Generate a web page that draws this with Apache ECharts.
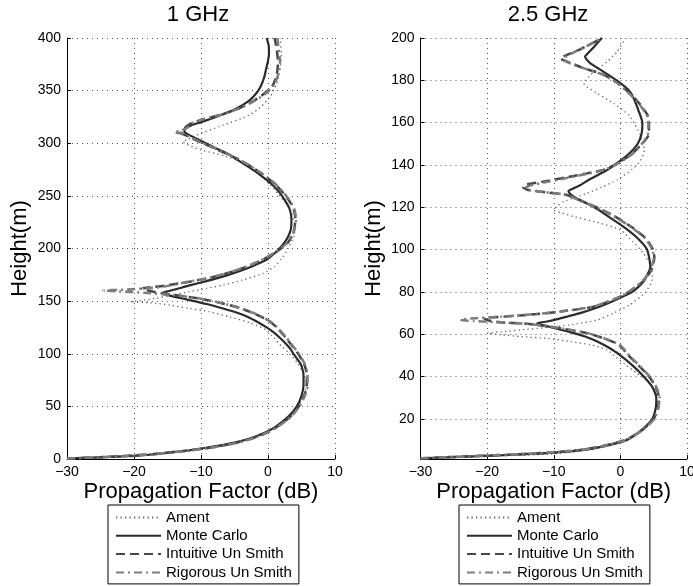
<!DOCTYPE html>
<html>
<head>
<meta charset="utf-8">
<script src="https://cdn.jsdelivr.net/npm/echarts@6/dist/echarts.min.js"></script>
<style>
  html, body { margin: 0; padding: 0; background: #fff; }
  #chart { width: 693px; height: 586px; }
</style>
</head>
<body>
<div id="chart"></div>
<script>
// series names, as in the legend
const names = ['Ament', 'Monte Carlo', 'Intuitive Un Smith', 'Rigorous Un Smith'];

// axis ticks
const xTicks = [-30, -20, -10, 0, 10];
const yTicks1 = [0, 50, 100, 150, 200, 250, 300, 350, 400];
const yTicks2 = [20, 40, 60, 80, 100, 120, 140, 160, 180, 200];

// 1 GHz : height (m) and propagation factor (dB)
const h1Am = [0.5, 1.5, 3, 5, 8, 10, 15, 20, 25, 30, 40, 50, 60, 72, 82, 92, 100, 110, 117, 122.6, 129, 135, 140, 143, 146, 148, 149.5, 151, 152.7, 156, 159, 162, 165.3, 170, 176.4, 183, 190, 200, 212, 222, 232, 242, 252, 260, 268, 276, 282, 288, 293.5, 298, 301.5, 304, 308, 316, 327, 335, 344, 355, 370, 385, 400];
const db1Am = [-30, -25, -19, -15.5, -11, -9, -5, -2.5, -0.5, 1.0, 3.2, 4.5, 5.4, 5.7, 5.3, 4.3, 3.2, 1.6, 0.6, -0.25, -2.5, -5.7, -8.8, -11.7, -14.5, -16.7, -20.6, -18.5, -16.7, -14.0, -11.7, -9.2, -6.7, -3.8, -0.7, 1.0, 2.0, 3.0, 3.9, 4.0, 3.6, 2.8, 1.5, 0.4, -0.8, -2.0, -3.8, -6.5, -9.9, -11.8, -12.7, -11.8, -10.6, -7.2, -2.7, -1.0, 0.3, 1.2, 1.8, 2.0, 1.8];

const h1Mc = [0.5, 1.5, 3, 4.5, 6, 8, 10, 13, 16, 20, 25, 30, 40, 50, 60, 70, 80, 90, 100, 105, 110, 115, 120, 125, 130, 135, 139, 143, 147, 151, 154, 156, 157.5, 159, 161, 163, 165, 169, 173, 178, 183, 189, 195, 202, 210, 218, 228, 238, 246, 254, 262, 270, 277, 284, 290, 296, 301, 305, 308, 310.5, 312.5, 314.5, 317, 320, 324, 328, 333, 340, 347, 354, 362, 370, 378, 386, 393, 400];
const db1Mc = [-30, -25, -20, -17, -15, -12, -10, -7, -4.7, -2.5, -0.5, 1.0, 3.0, 4.3, 5.0, 5.3, 5.3, 4.9, 3.8, 3.3, 2.6, 1.8, 0.9, -0.2, -1.5, -3.0, -4.6, -6.7, -9.0, -11.7, -13.9, -15.2, -15.9, -15.2, -13.9, -12.8, -11.7, -9.2, -6.9, -4.5, -2.4, -0.3, 0.9, 2.0, 2.9, 3.4, 3.5, 3.2, 2.5, 1.6, 0.4, -1.2, -2.8, -4.5, -6.0, -8.0, -9.6, -10.9, -11.8, -12.4, -12.5, -12.2, -11.5, -10.0, -8.2, -6.5, -4.7, -2.9, -1.8, -1.1, -0.6, -0.3, 0, 0.15, 0.1, -0.2];

const h1Int = [0.5, 1.5, 3, 4.5, 6, 8, 10, 13, 16, 20, 25, 30, 40, 50, 60, 70, 80, 90, 100, 110, 115, 120, 125, 130, 134, 138, 144, 149.5, 153, 156, 158.5, 160.5, 162, 163.5, 165, 168.5, 172, 177, 183, 190, 197, 205, 215, 228, 238, 246, 254, 262, 270, 278, 285, 292, 298, 303, 307, 310.5, 313, 316, 319, 323, 327, 333, 340, 347, 355, 365, 377, 389, 400];
const db1Int = [-30, -26, -21, -17.5, -15, -12, -9.5, -6.5, -4.3, -2.2, -0.2, 1.2, 3.3, 4.6, 5.4, 5.8, 5.8, 5.4, 4.5, 3.3, 2.7, 2.0, 1.3, 0.4, -0.7, -2.0, -4.5, -7.9, -10.8, -14.3, -16.8, -18.2, -18.8, -17.0, -15.0, -11.7, -8.8, -5.8, -3.0, -0.6, 1.3, 2.9, 3.8, 4.1, 3.8, 3.1, 2.1, 0.9, -0.7, -2.6, -4.5, -6.9, -9.0, -10.8, -12.1, -13.0, -12.6, -12.2, -11.4, -9.5, -7.1, -4.4, -2.2, -0.6, 0.7, 1.3, 1.5, 1.3, 1.0];

const h1Rig = [0.5, 1.5, 3, 4.5, 6, 8, 10, 13, 16, 20, 25, 30, 40, 50, 60, 70, 80, 90, 100, 110, 115, 120, 125, 130, 134, 138, 144, 149.5, 153, 156, 158, 159.3, 160, 160.8, 162, 164, 168.5, 172, 177, 183, 190, 197, 205, 215, 228, 238, 246, 254, 262, 270, 278, 285, 292, 298, 303, 307, 309.5, 310.7, 312, 315, 319, 323, 327, 333, 340, 347, 355, 365, 377, 389, 400];
const db1Rig = [-30, -26, -21, -17.3, -14.8, -11.8, -9.4, -6.4, -4.2, -2.1, -0.1, 1.3, 3.4, 4.7, 5.5, 5.9, 5.9, 5.5, 4.6, 3.4, 2.8, 2.1, 1.4, 0.5, -0.6, -1.9, -4.4, -7.8, -10.6, -14.5, -18.5, -22.5, -24.6, -22.0, -18.3, -15.3, -11.8, -8.9, -5.9, -3.1, -0.7, 1.2, 2.8, 3.8, 4.2, 3.9, 3.2, 2.2, 1.0, -0.6, -2.5, -4.4, -6.8, -8.9, -10.7, -12.0, -13.2, -14.0, -13.0, -12.0, -11.4, -9.5, -7.1, -4.3, -2.1, -0.4, 0.9, 1.5, 1.8, 1.6, 1.4];

// 2.5 GHz : height (m) and propagation factor (dB)
const h2Am = [1.3, 2.3, 3.3, 5, 7.3, 10, 13, 20, 26, 32, 37, 41.5, 46, 49, 52.6, 55, 56.5, 58, 58.9, 59.8, 60.5, 61.2, 62, 63.2, 64.4, 66.7, 70, 74, 80, 86, 92, 98, 104, 109.3, 112.4, 115.6, 117.5, 118.7, 120.5, 122.7, 126.6, 129.5, 132.9, 138, 142, 147, 154.2, 159, 163.6, 169.1, 173.9, 178.6, 184, 188.8, 193.5, 200];
const db2Am = [-30, -20.5, -10.5, -5.5, -2.5, 0.3, 2.5, 4.8, 5.4, 5.3, 4.3, 2.5, 0.6, -0.6, -2.0, -4.5, -7.5, -11, -15, -18, -20, -17.5, -15, -11, -7.5, -3.5, -1.0, 1.5, 3.8, 4.8, 4.6, 3.5, 1.8, 0, -3.0, -7.0, -9.0, -10, -9.5, -8.5, -5.0, -2.8, -0.5, 1.8, 3.0, 3.6, 3.0, 2.2, 1.25, -1.0, -3.5, -5.5, -4.0, -2.0, -0.5, 0.75];

const h2Mc = [1.3, 2, 3, 4, 5.3, 7, 10, 15, 20, 25, 30, 35, 40, 45, 50, 53, 55, 57, 58.9, 60.5, 62, 63.2, 64.3, 65.2, 66, 67, 68.5, 70.2, 72, 74, 76.5, 80, 85, 92, 100, 105, 110, 115, 120, 124, 126, 127.6, 129, 130.5, 133, 135, 137.6, 140.8, 145, 150, 155, 160, 165, 171.5, 175.5, 179.4, 184, 188, 190, 191.2, 193, 196, 200];
const db2Mc = [-30, -24, -16, -10, -5.5, -2.5, 1.0, 3.3, 4.8, 5.3, 5.4, 4.8, 3.5, 1.9, 0.0, -1.4, -2.5, -3.8, -5.3, -7.0, -8.8, -10.3, -11.7, -12.5, -11.0, -9.6, -7.8, -5.8, -4.0, -2.3, -0.5, 1.8, 3.5, 4.5, 4.0, 2.7, 0.8, -1.5, -3.9, -6.5, -7.4, -7.8, -7.0, -6.0, -4.7, -3.5, -2.0, -0.5, 1.2, 2.6, 3.2, 3.3, 2.8, 2.0, 1.2, -0.3, -2.5, -4.5, -5.1, -5.3, -4.8, -3.9, -2.8];

const h2Int = [1.3, 2, 3, 4, 5.3, 7, 10, 15, 20, 25, 30, 35, 40, 45, 50, 55, 58, 60.5, 62.5, 64, 64.9, 65.6, 66.6, 67.6, 68.3, 69.5, 70.7, 73, 77, 80, 85, 90, 96, 100, 105, 110, 116, 120, 123, 125.8, 127, 128.3, 129.5, 130.7, 132, 134, 136, 138, 141, 146, 154, 160, 164, 170, 175, 179, 183, 185.7, 188, 190.4, 192, 195, 200];
const db2Int = [-30, -25, -17, -11, -6, -2.8, 0.8, 3.4, 5.0, 5.6, 5.8, 5.3, 4.3, 2.8, 1.2, -0.2, -2.5, -5.0, -8.5, -11.5, -14, -18, -20, -20.5, -17.5, -12.5, -9, -4, -0.5, 1.3, 3.4, 4.6, 5.1, 4.9, 3.9, 2.0, -1.0, -3.6, -5.8, -8.0, -11, -14, -14.6, -14.2, -11.8, -8.3, -5.0, -2.2, -0.3, 2.0, 4.2, 4.3, 4.0, 2.6, 1.0, -0.5, -2.8, -5.5, -7.3, -9.0, -8.0, -5.8, -2.75];

const h2Rig = [1.3, 2, 3, 4, 5.3, 7, 10, 15, 20, 25, 30, 35, 40, 45, 50, 55, 58, 60.5, 62.5, 64, 64.9, 65.5, 66.2, 66.8, 67.4, 68.3, 69.5, 70.7, 73, 77, 80, 85, 90, 96, 100, 105, 110, 116, 120, 123, 125.8, 127.2, 128.2, 129.2, 130.2, 132, 134, 136, 138, 141, 146, 154, 160, 164, 170, 175, 179, 183, 186, 188, 190, 191.5, 194, 197, 200];
const db2Rig = [-30, -25, -17, -11, -6, -2.7, 0.9, 3.5, 5.1, 5.7, 5.9, 5.4, 4.4, 2.9, 1.3, -0.1, -2.4, -4.9, -8.4, -11.4, -14, -17.5, -22, -24, -22.5, -17.8, -12.8, -9.2, -4.1, -0.6, 1.2, 3.3, 4.5, 5.0, 4.8, 3.8, 1.9, -1.1, -3.7, -5.9, -8.2, -11.5, -13.8, -14.2, -13.6, -11.0, -7.8, -4.7, -2.1, -0.2, 2.1, 4.1, 4.2, 3.9, 2.5, 0.9, -0.6, -2.9, -5.8, -7.5, -8.6, -8.0, -6.5, -4.5, -2.8];

const font = '"Liberation Sans", Arial, Helvetica, sans-serif';

// line look per curve, like the matlab line specs
const looks = {
  'Ament': { color: '#666', width: 1.3, type: [1.3, 3.2] },
  'Monte Carlo': { color: '#2b2b2b', width: 2.2, type: 'solid' },
  'Intuitive Un Smith': { color: '#474747', width: 2.5, type: [9, 5] },
  'Rigorous Un Smith': { color: '#7d7d7d', width: 2.5, type: [8, 4, 2, 4] }
};

function pairs(h, db) {
  return h.map((v, i) => [db[i], v]);
}

function minus(v) {
  return v < 0 ? '\u2212' + Math.abs(v) : String(v);
}

function curve(name, idx, h, db) {
  const look = looks[name];
  return {
    name: name,
    type: 'line',
    xAxisIndex: idx,
    yAxisIndex: idx,
    data: pairs(h, db),
    showSymbol: false,
    symbol: 'none',
    smooth: 0.2,
    color: look.color,
    lineStyle: { color: look.color, width: look.width, type: look.type },
    animation: false
  };
}

function xAxisFor(idx) {
  return {
    type: 'value',
    gridIndex: idx,
    min: xTicks[0],
    max: xTicks[xTicks.length - 1],
    interval: xTicks[1] - xTicks[0],
    name: 'Propagation Factor (dB)',
    nameLocation: 'middle',
    nameGap: 22,
    nameMoveOverlap: false,
    nameTextStyle: { fontSize: 22, color: '#000', fontFamily: font },
    axisLine: { show: true, onZero: false, lineStyle: { color: '#000', width: 1 } },
    axisTick: { show: true, inside: true, length: 4, lineStyle: { color: '#000' } },
    axisLabel: { fontSize: 14, color: '#000', margin: 6, fontFamily: font, formatter: minus },
    splitLine: { show: true, lineStyle: { color: '#555', width: 1, type: [1, 4] } }
  };
}

function yAxisFor(idx, min, max, ticks) {
  const ax = {
    type: 'value',
    gridIndex: idx,
    min: min,
    max: max,
    name: 'Height(m)',
    nameLocation: 'middle',
    nameGap: 36,
    nameMoveOverlap: false,
    nameTextStyle: { fontSize: 22, color: '#000', fontFamily: font },
    axisLine: { show: true, onZero: false, lineStyle: { color: '#000', width: 1 } },
    axisTick: { show: true, inside: true, length: 4, lineStyle: { color: '#000' } },
    axisLabel: { fontSize: 14, color: '#000', margin: 6, fontFamily: font },
    splitLine: { show: true, lineStyle: { color: '#555', width: 1, type: [1, 4] } }
  };
  if (min === ticks[0]) {
    ax.interval = ticks[1] - ticks[0];
  } else {
    // axis starts below the first labelled tick
    ax.axisLabel.customValues = ticks;
    ax.axisTick.customValues = ticks;
  }
  return ax;
}

function legendAt(left) {
  return {
    data: names,
    orient: 'vertical',
    left: left,
    top: 505,
    itemWidth: 45,
    itemHeight: 14,
    itemGap: 3.3,
    padding: [5, 7, 4, 7],
    borderColor: '#000',
    borderWidth: 1,
    borderRadius: 0,
    backgroundColor: '#fff',
    selectedMode: false,
    // line sample only, no marker in the middle
    itemStyle: { opacity: 0, borderWidth: 0 },
    textStyle: { fontSize: 15, color: '#000', fontFamily: font }
  };
}

const chart = echarts.init(document.getElementById('chart'), null, { renderer: 'canvas' });

chart.setOption({
  animation: false,
  backgroundColor: '#fff',
  title: [
    { text: '1 GHz', left: 198, top: 4, textAlign: 'center', padding: 0,
      textStyle: { fontSize: 22, fontWeight: 'normal', color: '#000', fontFamily: font } },
    { text: '2.5 GHz', left: 548, top: 4, textAlign: 'center', padding: 0,
      textStyle: { fontSize: 22, fontWeight: 'normal', color: '#000', fontFamily: font } }
  ],
  grid: [
    { left: 67, top: 38, width: 268, height: 421, outerBoundsMode: 'none', containLabel: false },
    { left: 420.5, top: 38, width: 266.5, height: 421, outerBoundsMode: 'none', containLabel: false }
  ],
  xAxis: [xAxisFor(0), xAxisFor(1)],
  yAxis: [yAxisFor(0, 0, 400, yTicks1), yAxisFor(1, 1, 200, yTicks2)],
  legend: [legendAt(108), legendAt(459)],
  series: [
    curve('Ament', 0, h1Am, db1Am),
    curve('Monte Carlo', 0, h1Mc, db1Mc),
    curve('Intuitive Un Smith', 0, h1Int, db1Int),
    curve('Rigorous Un Smith', 0, h1Rig, db1Rig),
    curve('Ament', 1, h2Am, db2Am),
    curve('Monte Carlo', 1, h2Mc, db2Mc),
    curve('Intuitive Un Smith', 1, h2Int, db2Int),
    curve('Rigorous Un Smith', 1, h2Rig, db2Rig)
  ]
});
</script>
</body>
</html>
